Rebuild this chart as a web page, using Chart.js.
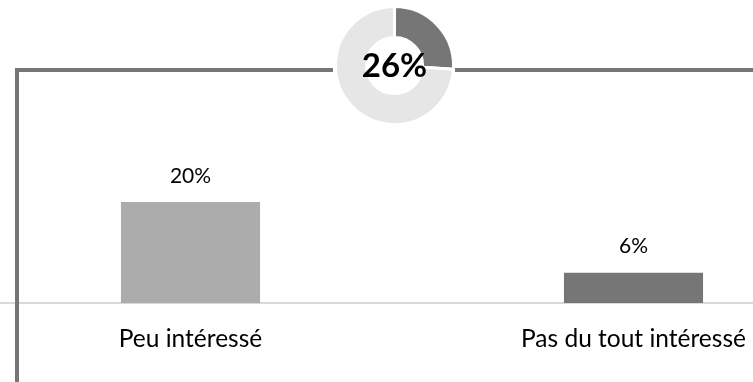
<!DOCTYPE html>
<html>
<head>
<meta charset="utf-8">
<script src="https://cdn.jsdelivr.net/npm/chart.js@4.4.1/dist/chart.umd.min.js"></script>
<style>
  html, body { margin: 0; padding: 0; background: #ffffff; }
  #stage { position: relative; width: 753px; height: 382px; overflow: hidden; }
  #bars { position: absolute; left: -31px; top: 0; }
  #ring { position: absolute; left: 334px; top: 5px; }
</style>
</head>
<body>
<div id="stage">
  <canvas id="bars" width="886" height="382"></canvas>
  <canvas id="ring" width="121" height="121"></canvas>
</div>
<script>
// Data
const categories = ['Peu intéressé', 'Pas du tout intéressé'];
const shares = [20, 6];
const barColors = ['#acacac', '#767676'];

// Ring: share of respondents not interested vs the rest
const ringLabels = ['Pas intéressés', 'Autres'];
const notInterested = shares.reduce((a, b) => a + b, 0);
const ringValues = [notInterested, 100 - notInterested];
const ringColors = ['#767676', '#e6e6e6'];

const FONT = 'Lato';
const BARS_SHIFT = 31; // bar canvas starts 31px left of the page

// Value labels above each bar
const valueLabels = {
  id: 'valueLabels',
  afterDatasetsDraw(chart) {
    const ctx = chart.ctx;
    const meta = chart.getDatasetMeta(0);
    ctx.save();
    ctx.font = '21px ' + FONT;
    ctx.fillStyle = '#000000';
    ctx.textAlign = 'center';
    ctx.textBaseline = 'alphabetic';
    meta.data.forEach((bar, i) => {
      ctx.fillText(shares[i] + '%', bar.x, bar.y - 19.5);
    });
    ctx.restore();
  }
};

// Bracket frame: top rule interrupted by the ring, and left rule
const frame = {
  id: 'frame',
  afterDraw(chart) {
    const ctx = chart.ctx;
    const px = x => x + BARS_SHIFT;
    ctx.save();
    ctx.strokeStyle = '#767676';
    ctx.lineWidth = 4;
    ctx.lineCap = 'butt';
    ctx.beginPath();
    ctx.moveTo(px(15), 70);
    ctx.lineTo(px(333), 70);
    ctx.moveTo(px(455), 70);
    ctx.lineTo(px(760), 70);
    ctx.moveTo(px(17), 68);
    ctx.lineTo(px(17), 382);
    ctx.stroke();
    ctx.restore();
  }
};

new Chart(document.getElementById('bars'), {
  type: 'bar',
  data: {
    labels: categories,
    datasets: [{
      data: shares,
      backgroundColor: barColors,
      borderWidth: 0,
      barPercentage: 0.314,
      categoryPercentage: 1
    }]
  },
  options: {
    responsive: false,
    animation: false,
    layout: { padding: 0 },
    plugins: { legend: { display: false }, tooltip: { enabled: false } },
    scales: {
      x: {
        grid: { display: false, drawTicks: false },
        border: { display: true, color: '#d9d9d9', width: 2 },
        ticks: {
          color: '#000000',
          font: { family: FONT, size: 24.5 },
          padding: 21,
          maxRotation: 0,
          autoSkip: false
        },
        afterFit(scale) { scale.height = 79; }
      },
      y: { display: false, min: 0, max: 60 }
    }
  },
  plugins: [valueLabels, frame]
});

// Total in the ring centre
const centreText = {
  id: 'centreText',
  afterDraw(chart) {
    const ctx = chart.ctx;
    const arc = chart.getDatasetMeta(0).data[0];
    ctx.save();
    ctx.font = 'bold 33px ' + FONT;
    ctx.fillStyle = '#000000';
    ctx.textAlign = 'center';
    ctx.textBaseline = 'alphabetic';
    ctx.fillText(notInterested + '%', arc.x, arc.y + 11.5);
    ctx.restore();
  }
};

new Chart(document.getElementById('ring'), {
  type: 'doughnut',
  data: {
    labels: ringLabels,
    datasets: [{
      data: ringValues,
      backgroundColor: ringColors,
      borderColor: '#ffffff',
      borderWidth: 3
    }]
  },
  options: {
    responsive: false,
    animation: false,
    cutout: '47.5%',
    plugins: { legend: { display: false }, tooltip: { enabled: false } }
  },
  plugins: [centreText]
});
</script>
</body>
</html>
